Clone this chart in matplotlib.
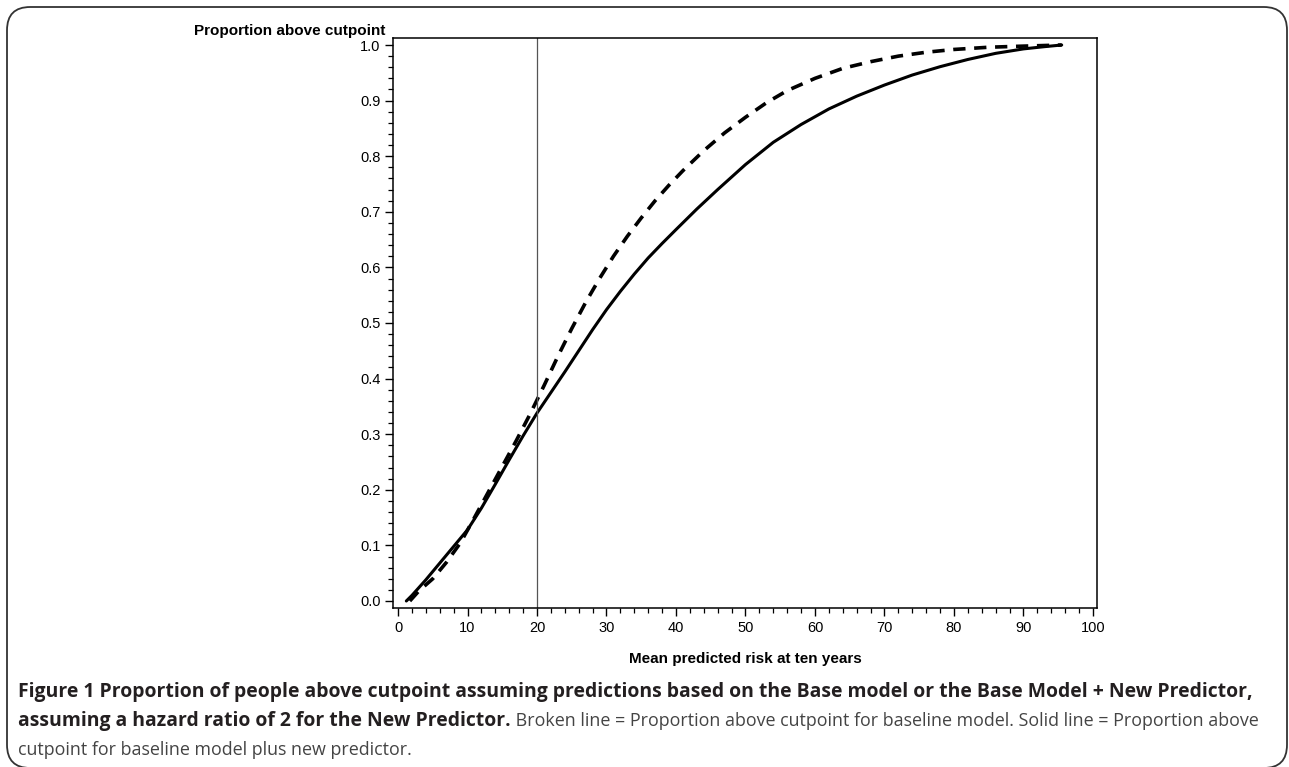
import matplotlib
matplotlib.use('Agg')
import matplotlib.pyplot as plt
from matplotlib.patches import FancyBboxPatch
from matplotlib.ticker import MultipleLocator

# Solid line: baseline model plus new predictor
x_solid = [1.2, 2, 4, 6, 8, 10, 12, 14, 16, 18, 20, 22, 24, 26, 28, 30, 32, 34, 36, 38,
           40, 43, 46, 50, 54, 58, 62, 66, 70, 74, 78, 82, 86, 90, 93, 95.5]
y_solid = [0.0, 0.01, 0.038, 0.068, 0.098, 0.128, 0.167, 0.21, 0.254, 0.297, 0.338, 0.375,
           0.412, 0.45, 0.488, 0.524, 0.557, 0.588, 0.617, 0.643, 0.668, 0.705, 0.74, 0.785,
           0.825, 0.857, 0.885, 0.908, 0.928, 0.946, 0.961, 0.974, 0.985, 0.993, 0.997, 1.0]

# Broken line: baseline model
x_dash = [1.7, 3, 5, 7, 9, 11, 13, 15, 17, 19, 21, 23, 25, 27, 29, 31, 33, 35, 37, 39,
          41, 44, 47, 50, 53, 56, 60, 64, 68, 72, 76, 80, 85, 90, 95.5]
y_dash = [0.0, 0.018, 0.04, 0.07, 0.105, 0.15, 0.196, 0.242, 0.288, 0.336, 0.387, 0.44,
          0.49, 0.537, 0.58, 0.62, 0.656, 0.689, 0.72, 0.748, 0.774, 0.81, 0.842, 0.87,
          0.896, 0.918, 0.94, 0.958, 0.97, 0.98, 0.987, 0.992, 0.996, 0.998, 1.0]

cutpoint = 20

W, H = 1289, 767
fig = plt.figure(figsize=(W / 100, H / 100), dpi=100, facecolor='white')

# outer rounded frame
frame = FancyBboxPatch((7 / W, 1 - 768 / H), 1280 / W, 761 / H,
                       boxstyle='round,pad=0,rounding_size=0.018',
                       transform=fig.transFigure, fill=False, edgecolor='#333333',
                       linewidth=1.3, mutation_aspect=W / H)
fig.patches.append(frame)

ax = fig.add_axes([393 / W, 1 - 608 / H, 704 / W, 570 / H])
ax.plot(x_solid, y_solid, color='black', linewidth=2.2, solid_capstyle='round')
ax.plot(x_dash, y_dash, color='black', linewidth=2.6, dashes=(3.4, 2.4))
ax.axvline(cutpoint, color='#555555', linewidth=0.9)

ax.set_xlim(-0.72, 100.58)
ax.set_ylim(-0.0126, 1.0126)
ax.xaxis.set_minor_locator(MultipleLocator(2))
ax.yaxis.set_minor_locator(MultipleLocator(0.02))
ax.set_yticks([i / 10 for i in range(11)])
ax.set_yticklabels(['%.1f' % (i / 10) for i in range(11)])
ax.set_xticks(range(0, 101, 10))
ax.tick_params(which='major', direction='out', length=6, width=1, labelsize=10.5, pad=3)
ax.tick_params(which='minor', direction='out', length=3.5, width=0.9)
for lab in ax.get_xticklabels() + ax.get_yticklabels():
    lab.set_family('Liberation Sans')
for s in ax.spines.values():
    s.set_linewidth(1.1)

fig.text(385 / W, 1 - 31 / H, 'Proportion above cutpoint', ha='right', va='center',
         family='Liberation Sans', fontweight='bold', fontsize=11)
fig.text(745 / W, 1 - 659 / H, 'Mean predicted risk at ten years', ha='center', va='center',
         family='Liberation Sans', fontweight='bold', fontsize=11)

# caption
cap1 = ('Figure 1 Proportion of people above cutpoint assuming predictions based on the '
        'Base model or the Base Model + New Predictor,')
cap2b = 'assuming a hazard ratio of 2 for the New Predictor.'
cap2r = (' Broken line = Proportion above cutpoint for baseline model. Solid line = '
         'Proportion above')
cap3 = 'cutpoint for baseline model plus new predictor.'

r = fig.canvas.get_renderer()
x0 = 18 / W
t1 = fig.text(x0, 1 - 692 / H, cap1, ha='left', va='center', family='Open Sans',
              fontweight='bold', fontsize=11, color='#231f20')
w1 = t1.get_window_extent(r).width
fs = 11 * (1234 / w1)
t1.set_fontsize(fs)
t2 = fig.text(x0, 1 - 721 / H, cap2b, ha='left', va='center', family='Open Sans',
              fontweight='bold', fontsize=fs, color='#231f20')
w2 = t2.get_window_extent(r).width
t2r = fig.text(x0 + w2 / W, 1 - 721 / H, cap2r, ha='left', va='center', family='Open Sans',
               fontsize=fs, color='#444444')
wr = t2r.get_window_extent(r).width
fs_r = fs * (1237 - w2) / wr
t2r.set_fontsize(fs_r)
fig.text(x0, 1 - 750 / H, cap3, ha='left', va='center', family='Open Sans',
         fontsize=fs_r, color='#444444')

fig.savefig('out.png', dpi=100, facecolor='white')
